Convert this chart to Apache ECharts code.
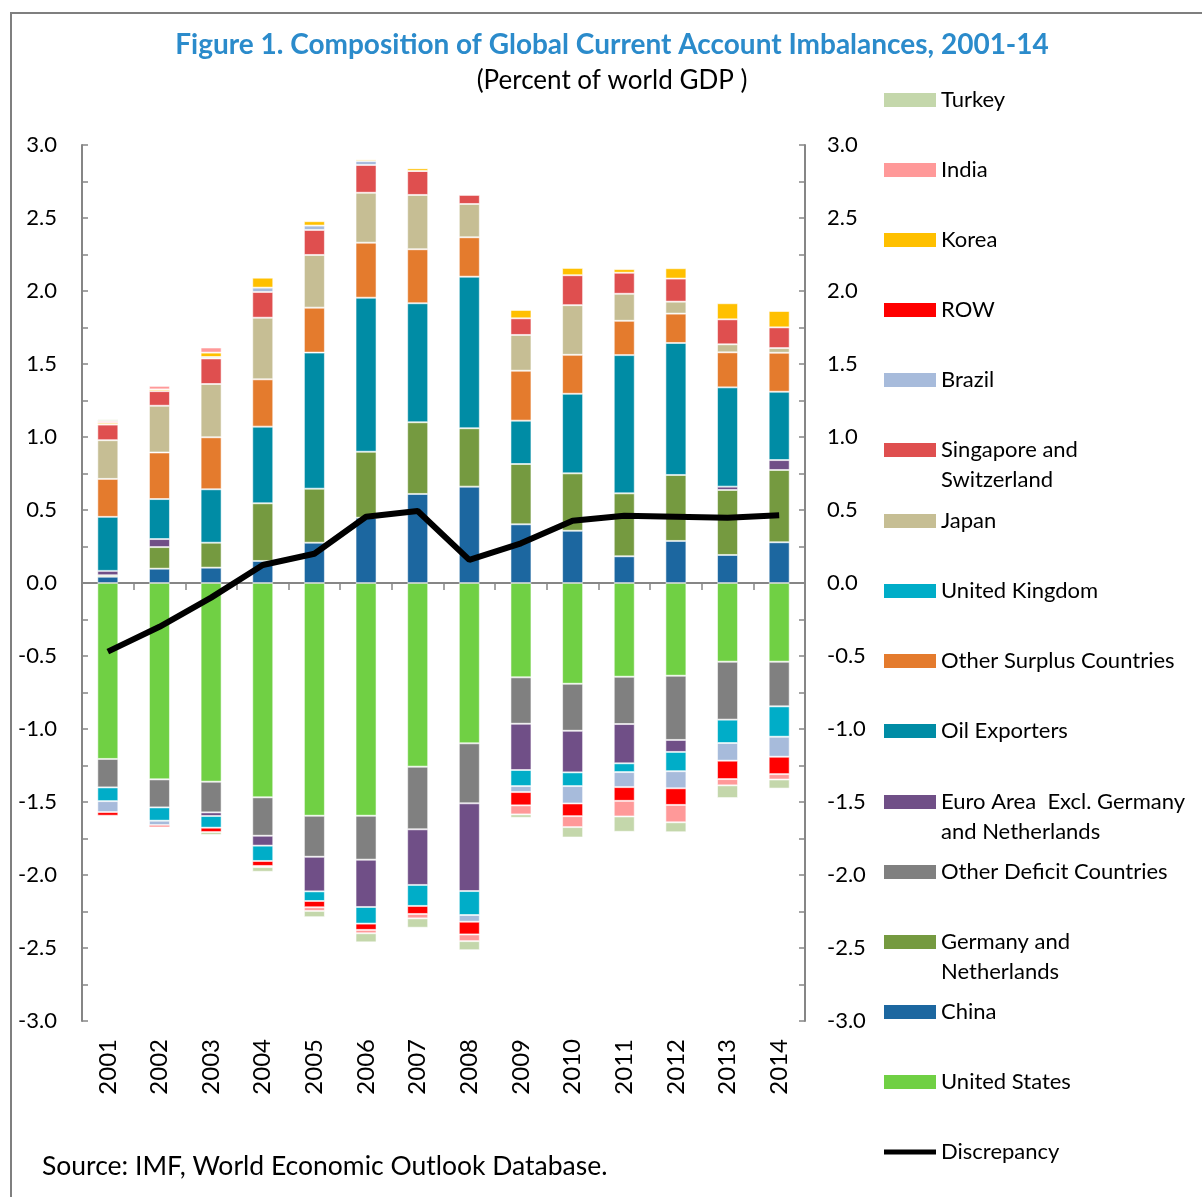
<!DOCTYPE html>
<html>
<head>
<meta charset="utf-8">
<script src="https://cdn.jsdelivr.net/npm/echarts@6/dist/echarts.min.js"></script>
</head>
<body style="margin:0;background:#fff">
<div id="chart" style="width:1202px;height:1197px"></div>
<script type="text/javascript">
// years on the x axis
var years = ['2001', '2002', '2003', '2004', '2005', '2006', '2007', '2008', '2009', '2010', '2011', '2012', '2013', '2014'];

// current account balance, percent of world GDP
var unitedStates = [-1.205, -1.345, -1.361, -1.468, -1.594, -1.594, -1.258, -1.098, -0.646, -0.690, -0.642, -0.635, -0.539, -0.539];
var china = [0.043, 0.098, 0.105, 0.151, 0.276, 0.447, 0.610, 0.660, 0.402, 0.358, 0.183, 0.288, 0.192, 0.279];
var germanyNetherlands = [0.010, 0.148, 0.171, 0.395, 0.370, 0.452, 0.491, 0.400, 0.413, 0.393, 0.431, 0.452, 0.445, 0.495];
var otherDeficit = [-0.195, -0.192, -0.210, -0.263, -0.281, -0.301, -0.429, -0.411, -0.318, -0.322, -0.324, -0.440, -0.397, -0.306];
var euroArea = [0.030, 0.055, -0.025, -0.068, -0.237, -0.324, -0.381, -0.601, -0.317, -0.285, -0.269, -0.082, 0.023, 0.068];
var oilExporters = [0.370, 0.274, 0.366, 0.525, 0.932, 1.055, 0.815, 1.038, 0.297, 0.545, 0.947, 0.904, 0.680, 0.468];
var otherSurplus = [0.260, 0.319, 0.356, 0.324, 0.308, 0.377, 0.370, 0.270, 0.342, 0.267, 0.235, 0.201, 0.240, 0.267];
var unitedKingdom = [-0.094, -0.091, -0.080, -0.105, -0.066, -0.114, -0.144, -0.164, -0.110, -0.094, -0.060, -0.132, -0.160, -0.208];
var japan = [0.265, 0.320, 0.365, 0.422, 0.361, 0.342, 0.372, 0.228, 0.245, 0.340, 0.185, 0.082, 0.055, 0.032];
var singaporeSwitzerland = [0.107, 0.100, 0.175, 0.176, 0.171, 0.190, 0.164, 0.062, 0.114, 0.205, 0.144, 0.158, 0.171, 0.142];
var brazil = [-0.075, -0.030, 0.010, 0.030, 0.030, 0.027, 0, -0.046, -0.041, -0.119, -0.103, -0.117, -0.121, -0.137];
var restOfWorld = [-0.025, -0.014, -0.030, -0.034, -0.043, -0.043, -0.055, -0.087, -0.091, -0.087, -0.094, -0.114, -0.126, -0.119];
var korea = [0.012, 0.012, 0.030, 0.068, 0.030, 0.011, 0.018, 0.007, 0.057, 0.050, 0.025, 0.071, 0.110, 0.112];
var india = [0.012, 0.025, 0.035, -0.008, -0.025, -0.023, -0.030, -0.046, -0.062, -0.075, -0.107, -0.119, -0.043, -0.037];
var turkey = [0.012, 0, -0.020, -0.032, -0.043, -0.062, -0.064, -0.062, -0.023, -0.071, -0.105, -0.068, -0.087, -0.062];
var discrepancy = [-0.47, -0.30, -0.10, 0.123, 0.20, 0.454, 0.493, 0.158, 0.272, 0.427, 0.461, 0.454, 0.447, 0.464];

var FONT = 'Lato, "Open Sans", sans-serif';
var AXIS_GREY = '#868686';

// stacking order = order of the series
var bars = [
    ['United States', unitedStates, '#70d044'],
    ['China', china, '#1c67a0'],
    ['Germany and\nNetherlands', germanyNetherlands, '#759a40'],
    ['Other Deficit Countries', otherDeficit, '#808080'],
    ['Euro Area  Excl. Germany\nand Netherlands', euroArea, '#704f87'],
    ['Oil Exporters', oilExporters, '#008ca5'],
    ['Other Surplus Countries', otherSurplus, '#e47b2d'],
    ['United Kingdom', unitedKingdom, '#00adc8'],
    ['Japan', japan, '#c6be94'],
    ['Singapore and\nSwitzerland', singaporeSwitzerland, '#df4f4f'],
    ['Brazil', brazil, '#a7bbdb'],
    ['ROW', restOfWorld, '#ff0000'],
    ['Korea', korea, '#ffc000'],
    ['India', india, '#ff9999'],
    ['Turkey', turkey, '#c4d7ab']
];

// legend entries, top to bottom, with the centre line of each swatch
var legendRows = [
    ['Turkey', 100], ['India', 170], ['Korea', 240], ['ROW', 310], ['Brazil', 380],
    ['Singapore and\nSwitzerland', 450], ['Japan', 521], ['United Kingdom', 591],
    ['Other Surplus Countries', 661], ['Oil Exporters', 731],
    ['Euro Area  Excl. Germany\nand Netherlands', 802], ['Other Deficit Countries', 872],
    ['Germany and\nNetherlands', 942], ['China', 1012], ['United States', 1082], ['Discrepancy', 1152]
];

var series = bars.map(function (b) {
    return {
        name: b[0],
        type: 'bar',
        stack: 'ca',
        barWidth: 21,
        data: b[1],
        itemStyle: {color: b[2], borderColor: 'rgba(255,255,255,0.55)', borderWidth: 1}
    };
});
series.push({
    name: 'Discrepancy',
    type: 'line',
    data: discrepancy,
    symbol: 'none',
    color: '#000',
    lineStyle: {color: '#000', width: 6},
    z: 10
});

// one legend per row so the spacing stays even; two-line names get an
// empty first line so that their first line sits on the swatch
var legends = legendRows.map(function (row) {
    var twoLine = row[0].indexOf('\n') >= 0;
    return {
        orient: 'vertical',
        left: 884,
        top: row[1] - (twoLine ? 45 : 15),
        padding: 0,
        itemWidth: 52,
        itemHeight: row[0] === 'Discrepancy' ? 5 : 14,
        icon: 'rect',
        selectedMode: false,
        itemStyle: {borderWidth: 0},
        data: [row[0]],
        formatter: function (name) {
            return twoLine ? '\n' + name : name;
        },
        textStyle: {fontFamily: FONT, fontSize: 22, lineHeight: 30, color: '#000'}
    };
});

function tickText(v) {
    return Math.abs(v * 2 - Math.round(v * 2)) < 1e-6 ? v.toFixed(1) : '';
}

var yAxisBase = {
    type: 'value',
    min: -3,
    max: 3,
    interval: 0.25,
    axisLine: {show: true, lineStyle: {color: AXIS_GREY, width: 2}},
    axisTick: {show: true, inside: true, length: 6, lineStyle: {color: AXIS_GREY, width: 1.5}},
    splitLine: {show: false},
    axisLabel: {formatter: tickText, color: '#000', fontFamily: FONT, fontSize: 22}
};

var option = {
    animation: false,
    backgroundColor: '#fff',
    grid: {left: 82, right: 397, top: 145, bottom: 176, containLabel: false},
    legend: legends,
    xAxis: [
        {
            type: 'category',
            data: years,
            axisLine: {onZero: true, lineStyle: {color: AXIS_GREY, width: 2}},
            axisTick: {show: true, length: 7, lineStyle: {color: AXIS_GREY, width: 1.5}},
            axisLabel: {show: false}
        },
        {
            type: 'category',
            data: years,
            position: 'bottom',
            axisLine: {show: false, onZero: false},
            axisTick: {show: false},
            axisLabel: {rotate: 90, margin: 18, color: '#000', fontFamily: FONT, fontSize: 24}
        }
    ],
    yAxis: [
        Object.assign({}, yAxisBase, {position: 'left', axisLabel: Object.assign({}, yAxisBase.axisLabel, {margin: 25})}),
        Object.assign({}, yAxisBase, {position: 'right', axisLabel: Object.assign({}, yAxisBase.axisLabel, {margin: 22})})
    ],
    graphic: [
        {type: 'rect', shape: {x: 11, y: 13, width: 1400, height: 1400}, style: {fill: 'none', stroke: '#7f7f7f', lineWidth: 2}, silent: true},
        {type: 'text', x: 612, y: 45, style: {text: 'Figure 1. Composition of Global Current Account Imbalances, 2001-14', fill: '#2b8bcb', fontFamily: FONT, fontSize: 28, fontWeight: 'bold', align: 'center', verticalAlign: 'middle'}},
        {type: 'text', x: 612, y: 81, style: {text: '(Percent of world GDP )', fill: '#000', fontFamily: FONT, fontSize: 26, align: 'center', verticalAlign: 'middle'}},
        {type: 'text', x: 42, y: 1166, style: {text: 'Source: IMF, World Economic Outlook Database.', fill: '#000', fontFamily: FONT, fontSize: 26.5, align: 'left', verticalAlign: 'middle'}}
    ],
    series: series
};

var myChart = echarts.init(document.getElementById('chart'));
myChart.setOption(option);
</script>
</body>
</html>
